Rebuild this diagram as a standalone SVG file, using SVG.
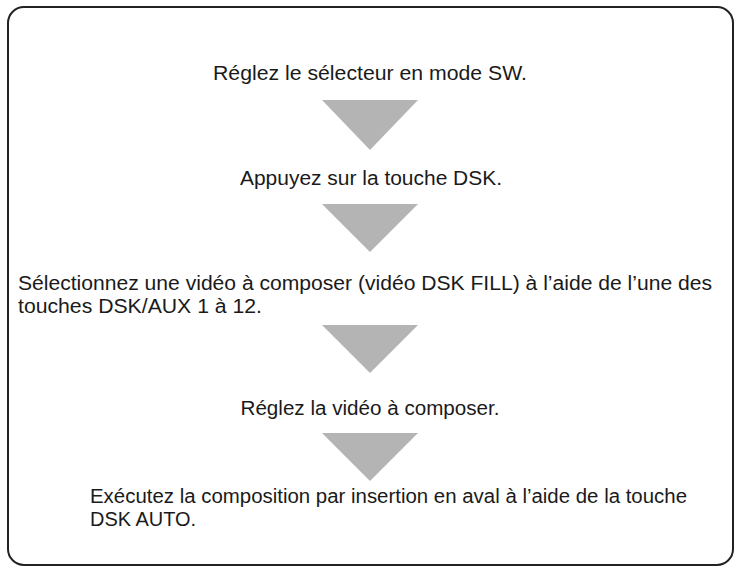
<svg xmlns="http://www.w3.org/2000/svg" width="740" height="573" viewBox="0 0 740 573">
<style>
text{font-family:"Liberation Sans",Arial,sans-serif;font-size:20px;fill:#1a1a1a}
.c{text-anchor:middle}
.tri{fill:#b4b4b4}
</style>
<rect x="0" y="0" width="740" height="573" fill="#fff"/>
<rect x="8" y="7" width="725" height="558" rx="16" fill="none" stroke="#222" stroke-width="2"/>
<g id="step1"><text class="c" x="370" y="80" textLength="314" lengthAdjust="spacingAndGlyphs">Réglez le sélecteur en mode SW.</text></g>
<g id="step2"><text class="c" x="371" y="185" textLength="262" lengthAdjust="spacingAndGlyphs">Appuyez sur la touche DSK.</text></g>
<g id="step3"><text x="18" y="290" textLength="694" lengthAdjust="spacingAndGlyphs">Sélectionnez une vidéo à composer (vidéo DSK FILL) à l’aide de l’une des</text><text x="18" y="313" textLength="244" lengthAdjust="spacingAndGlyphs">touches DSK/AUX 1 à 12.</text></g>
<g id="step4"><text class="c" x="370" y="415" textLength="259" lengthAdjust="spacingAndGlyphs">Réglez la vidéo à composer.</text></g>
<g id="step5"><text x="90" y="503" textLength="597" lengthAdjust="spacingAndGlyphs">Exécutez la composition par insertion en aval à l’aide de la touche</text><text x="90" y="526" textLength="106" lengthAdjust="spacingAndGlyphs">DSK AUTO.</text></g>
<g id="connectors">
<polygon class="tri" points="322,100 418,100 370,150"/>
<polygon class="tri" points="322,204 418,204 370,252"/>
<polygon class="tri" points="322,325 418,325 370,373"/>
<polygon class="tri" points="322,433 418,433 370,481"/>
</g>
</svg>
